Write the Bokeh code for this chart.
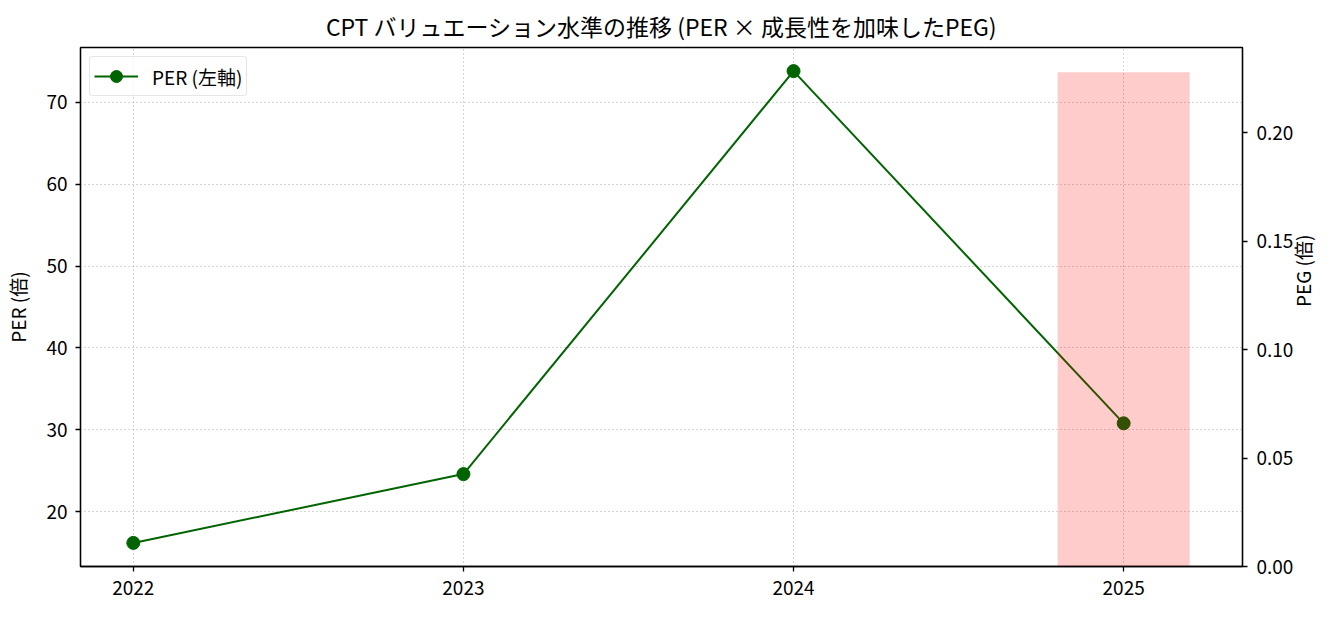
import math
from bokeh.plotting import figure
from bokeh.models import Range1d, LinearAxis, FixedTicker, NumeralTickFormatter, Legend, LegendItem
from bokeh.embed import file_html
from bokeh.resources import INLINE

years = [2022, 2023, 2024, 2025]
per_values = [16.2, 24.6, 73.8, 30.8]
peg_years = [2025]
peg_values = [0.228]
per_ticks = [20, 30, 40, 50, 60, 70]
peg_ticks = [0.0, 0.05, 0.10, 0.15, 0.20]

FONT = "Noto Sans CJK JP"
TICK_SIZE = "19px"

p = figure(width=1333, height=609, output_backend="svg", toolbar_location=None,
           x_range=Range1d(2021.84, 2025.36), y_range=Range1d(13.32, 76.68),
           title="CPT バリュエーション水準の推移 (PER × 成長性を加味したPEG)",
           min_border_left=80, min_border_right=91, min_border_top=47, min_border_bottom=43)
p.extra_y_ranges = {"peg": Range1d(0, 0.2394)}

p.title.align = "center"
p.title.text_font = FONT
p.title.text_font_size = "23px"
p.title.text_font_style = "normal"
p.title.text_color = "black"

p.outline_line_color = "black"
p.outline_line_width = 1.3
p.outline_line_alpha = 1


def style_axis(ax):
    ax.major_label_text_font = FONT
    ax.major_label_text_font_size = TICK_SIZE
    ax.major_label_text_color = "black"
    ax.axis_label_text_font = FONT
    ax.axis_label_text_font_size = TICK_SIZE
    ax.axis_label_text_font_style = "normal"
    ax.axis_label_text_color = "black"
    ax.minor_tick_line_color = None
    ax.major_tick_in = 0
    ax.major_tick_out = 5
    ax.major_tick_line_width = 1.3
    ax.major_tick_line_color = "black"
    ax.axis_line_color = "black"
    ax.axis_line_width = 1.3
    ax.major_label_standoff = 8
    ax.axis_label_standoff = 12


style_axis(p.xaxis[0])
style_axis(p.yaxis[0])
p.xaxis.ticker = FixedTicker(ticks=years)
p.xaxis.formatter = NumeralTickFormatter(format="0")
p.xaxis.major_label_standoff = 9
p.yaxis.ticker = FixedTicker(ticks=per_ticks)
p.yaxis.axis_label = "PER (倍)"

right = LinearAxis(y_range_name="peg", axis_label="PEG (倍)",
                   ticker=FixedTicker(ticks=peg_ticks),
                   formatter=NumeralTickFormatter(format="0.00"))
style_axis(right)
right.major_label_standoff = 9
right.axis_label_standoff = 6
if "axis_label_orientation" in right.properties():
    right.axis_label_orientation = math.pi / 2
p.add_layout(right, "right")

p.xgrid.grid_line_color = "#a8a8a8"
p.ygrid.grid_line_color = "#a8a8a8"
p.xgrid.grid_line_alpha = 1
p.ygrid.grid_line_alpha = 1
p.xgrid.grid_line_dash = "1 3"
p.ygrid.grid_line_dash = "1 3"

ln = p.line(years, per_values, line_color="darkgreen", line_width=2)
sc = p.scatter(years, per_values, size=13, fill_color="darkgreen", line_color="darkgreen")
p.vbar(x=peg_years, top=peg_values, width=0.4, bottom=0, y_range_name="peg",
       fill_color="red", fill_alpha=0.2, line_color=None)

legend = Legend(items=[LegendItem(label="PER (左軸)", renderers=[ln, sc])],
                location="top_left", label_text_font=FONT, label_text_font_size=TICK_SIZE,
                label_text_color="black",
                border_line_color="#cccccc", border_line_width=1.3, border_radius=4,
                background_fill_alpha=0.8, padding=4, margin=9, glyph_width=44,
                glyph_height=30, label_standoff=14, spacing=0)
p.add_layout(legend)

open("out.html", "w").write(file_html(p, INLINE))
